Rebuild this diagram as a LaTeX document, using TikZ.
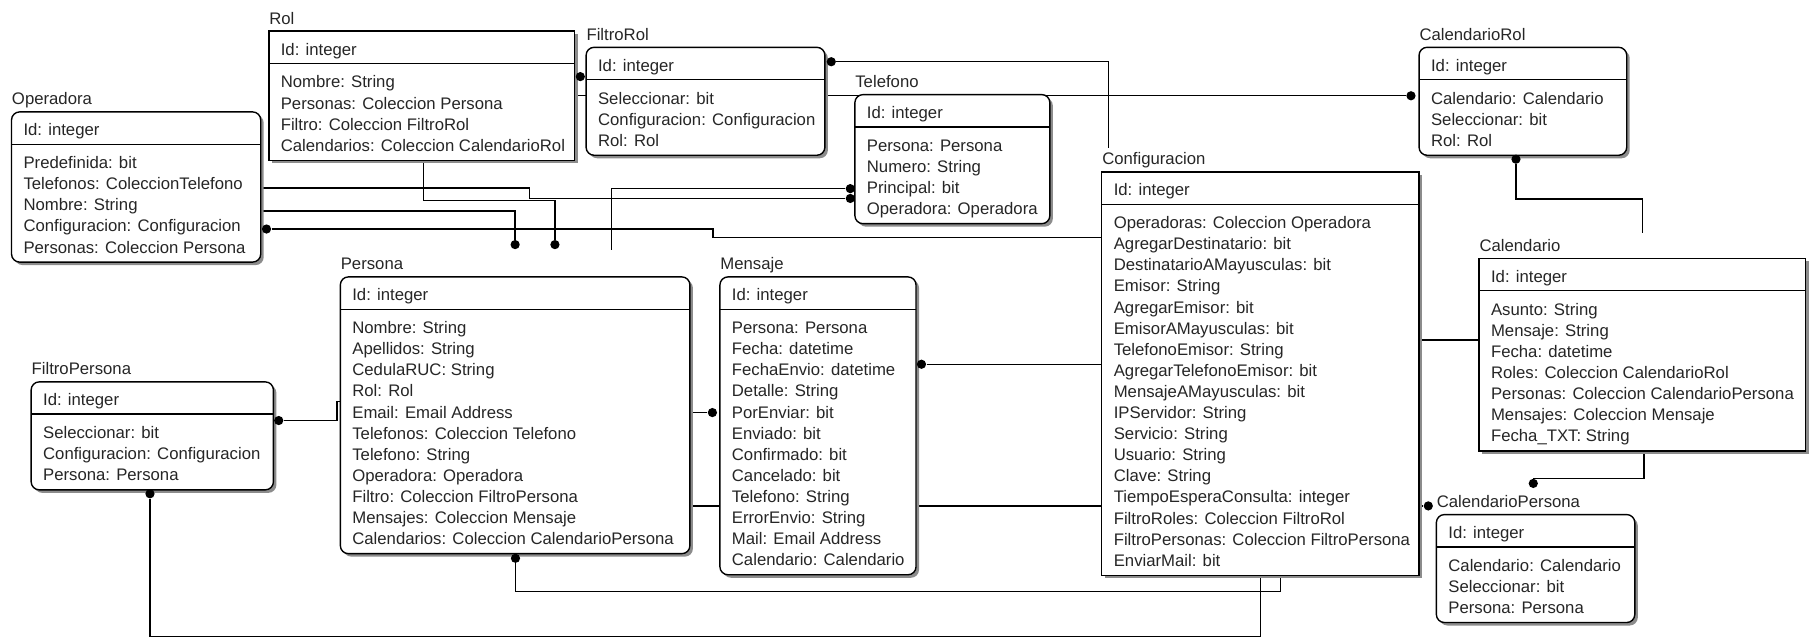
\documentclass[tikz,border=0pt]{standalone}
\usepackage{fontspec}
\setmainfont{Liberation Sans}
\usetikzlibrary{calc,shadows}
\pgfdeclarelayer{fondo}
\pgfsetlayers{fondo,main}

\newcommand{\fuente}{\fontsize{7.25pt}{9pt}\selectfont}

% entity box: [style] name, title, x, y, width, attributes
\newcommand{\entidad}[7][]{%
  \foreach \fila [count=\k] in {#7} {\xdef\nfilas{\k}}%
  \node[caja,#1,minimum width={#6*0.5pt},minimum height={(57+(\nfilas-1)*18.29)*0.5pt}] (#2) at (#4,#5) {};
  \node[texto] (#2-t) at ($(#2.north west)+(0,-6)$) {#3};
  \draw[borde] ($(#2.north west)+(0,28)$) -- ($(#2.north east)+(0,28)$);
  \node[texto] (#2-id) at ($(#2.north west)+(10,20.7)$) {Id: integer};
  \foreach \fila [count=\k] in {#7}
    \node[texto] (#2-\k) at ($(#2.north west)+(10,{49.2+(\k-1)*18.29})$) {\fila};
}

\begin{document}
\begin{tikzpicture}[x=0.5pt,y=-0.5pt,
    caja/.style={draw,fill=white,line width=0.6pt,inner sep=0pt,outer sep=0pt,anchor=north west,
      drop shadow={shadow xshift=1.3pt,shadow yshift=-1.3pt,fill=black!45,draw=none,opacity=1}},
    redonda/.style={rounded corners=3.5pt},
    borde/.style={line width=0.6pt},
    texto/.style={font=\fuente,text=black!85,inner sep=0pt,anchor=base west},
    enlace/.style={line width=0.6pt},
    punto/.style={circle,fill,inner sep=0pt,minimum size=4pt}]

    \useasboundingbox (0,0) rectangle (1568,553);

    % Entities
    \entidad[redonda]{ope}{Operadora}{10}{97}{216}{Predefinida: bit, Telefonos: ColeccionTelefono, Nombre: String, Configuracion: Configuracion, Personas: Coleccion Persona}
    \entidad{rol}{Rol}{233}{27}{265}{Nombre: String, Personas: Coleccion Persona, Filtro: Coleccion FiltroRol, Calendarios: Coleccion CalendarioRol}
    \entidad[redonda]{fro}{FiltroRol}{508}{41}{207}{Seleccionar: bit, Configuracion: Configuracion, Rol: Rol}
    \entidad[redonda]{tel}{Telefono}{741}{82}{169}{Persona: Persona, Numero: String, Principal: bit, Operadora: Operadora}
    \entidad[redonda]{crol}{CalendarioRol}{1230}{41}{180}{Calendario: Calendario, Seleccionar: bit, Rol: Rol}
    \entidad{conf}{Configuracion}{955}{149}{275}{Operadoras: Coleccion Operadora, AgregarDestinatario: bit, DestinatarioAMayusculas: bit, Emisor: String, AgregarEmisor: bit, EmisorAMayusculas: bit, TelefonoEmisor: String, AgregarTelefonoEmisor: bit, MensajeAMayusculas: bit, IPServidor: String, Servicio: String, Usuario: String, Clave: String, TiempoEsperaConsulta: integer, FiltroRoles: Coleccion FiltroRol, FiltroPersonas: Coleccion FiltroPersona, EnviarMail: bit}
    \entidad{cal}{Calendario}{1282}{224}{283}{Asunto: String, Mensaje: String, Fecha: datetime, Roles: Coleccion CalendarioRol, Personas: Coleccion CalendarioPersona, Mensajes: Coleccion Mensaje, Fecha\_TXT: String}
    \entidad[redonda]{per}{Persona}{295}{240}{303}{Nombre: String, Apellidos: String, CedulaRUC: String, Rol: Rol, Email: Email Address, Telefonos: Coleccion Telefono, Telefono: String, Operadora: Operadora, Filtro: Coleccion FiltroPersona, Mensajes: Coleccion Mensaje, Calendarios: Coleccion CalendarioPersona}
    \entidad[redonda]{men}{Mensaje}{624}{240}{170}{Persona: Persona, Fecha: datetime, FechaEnvio: datetime, Detalle: String, PorEnviar: bit, Enviado: bit, Confirmado: bit, Cancelado: bit, Telefono: String, ErrorEnvio: String, Mail: Email Address, Calendario: Calendario}
    \entidad[redonda]{fpe}{FiltroPersona}{27}{331}{210}{Seleccionar: bit, Configuracion: Configuracion, Persona: Persona}
    \entidad[redonda]{cpe}{CalendarioPersona}{1245}{446}{172}{Calendario: Calendario, Seleccionar: bit, Persona: Persona}

    % Many ends
    \node[punto] (d-tel1) at ($(tel.north west)+(-4,81.5)$) {};
    \node[punto] (d-tel2) at ($(tel.north west)+(-4,90)$) {};
    \node[punto] (d-per1) at ($(per.north west)+(151.5,-28)$) {};
    \node[punto] (d-per2) at ($(per.north west)+(186,-28)$) {};
    \node[punto] (d-per3) at ($(per.south west)+(151.8,4)$) {};
    \node[punto] (d-ope) at ($(ope.north east)+(5,101.5)$) {};
    \node[punto] (d-fro1) at ($(fro.north east)+(5.5,12.5)$) {};
    \node[punto] (d-fro2) at ($(fro.north west)+(-5,25.4)$) {};
    \node[punto] (d-crol1) at ($(crol.north west)+(-7,42)$) {};
    \node[punto] (d-crol2) at ($(crol.south west)+(84,3.4)$) {};
    \node[punto] (d-cpe1) at ($(cpe.north west)+(84,-27)$) {};
    \node[punto] (d-cpe2) at ($(cpe.north west)+(-7,-7.5)$) {};
    \node[punto] (d-men1) at ($(men.north east)+(4.7,75.7)$) {};
    \node[punto] (d-men2) at ($(men.north west)+(-6.5,117.6)$) {};
    \node[punto] (d-fpe1) at ($(fpe.north east)+(4.6,33.5)$) {};
    \node[punto] (d-fpe2) at ($(fpe.south west)+(103,3.4)$) {};

    % Connectors
    \begin{pgfonlayer}{fondo}
    \draw[enlace] ($(ope.north east)+(0,66)$) -| (459,172) -- (d-tel2);
    \draw[enlace] ($(ope.north east)+(0,86)$) -| (d-per1);
    \draw[enlace] (d-ope) -| (618,206) -- ($(conf.north west)+(0,57)$);
    \draw[enlace] ($(rol.south west)+(134,0)$) |- (481,174) -- (d-per2);
    \draw[enlace] ($(rol.north east)+(0,39.4)$) -- (d-fro2);
    \draw[enlace] ($(rol.north east)+(0,56)$) -- (d-crol1);
    \draw[enlace] (d-tel1) -| ($(per.north west)+(235,-23.4)$);
    \draw[enlace] (d-fro1) -| ($(conf.north west)+(6,-20.5)$);
    \draw[enlace] (d-crol2) |- (1423.5,172.5) -- ($(cal.north west)+(141.5,-22)$);
    \draw[enlace] ($(cal.south west)+(143,0)$) |- (1329,414.5) -- (d-cpe1);
    \draw[enlace] (d-men1) -| (1100,294.6) -- ($(cal.north west)+(0,70.6)$);
    \draw[enlace] ($(per.north east)+(0,117.6)$) -- (d-men2);
    \draw[enlace] ($(per.north east)+(0,198.5)$) -- (d-cpe2);
    \draw[enlace] (d-fpe1) -| (292,348) -- ($(per.north west)+(0,108)$);
    \draw[enlace] (d-fpe2) |- (1092.5,551.5) -- ($(conf.south west)+(137.5,0)$);
    \draw[enlace] (d-per3) |- (1110,512.7) -- ($(conf.south west)+(155,0)$);
    \end{pgfonlayer}
\end{tikzpicture}
\end{document}
